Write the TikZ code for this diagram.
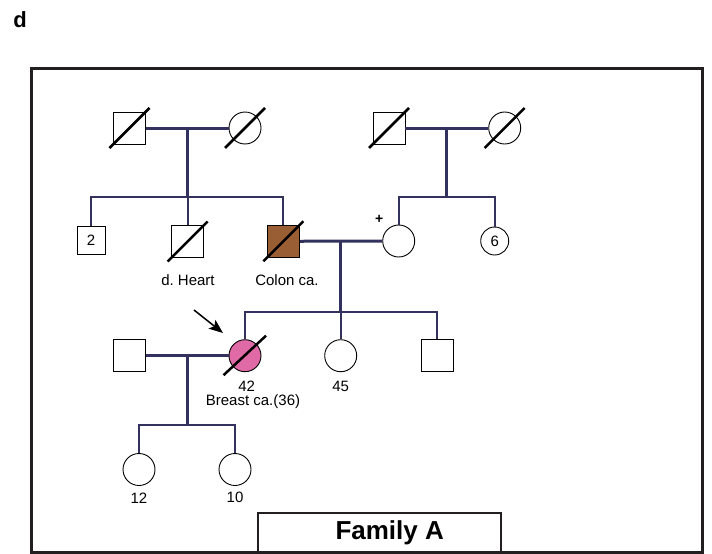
\documentclass[tikz,border=0pt]{standalone}
\usepackage{fontspec}
\setmainfont{Liberation Sans}
\usetikzlibrary{arrows.meta}
\definecolor{pedline}{HTML}{33325F}
\definecolor{colonbrown}{HTML}{9A5E34}
\definecolor{breastpink}{HTML}{E06AA6}
\definecolor{framegray}{HTML}{231F20}

\begin{document}
\begin{tikzpicture}[x=1pt,y=-1pt,
                every node/.style={font=\fontsize{15}{17}\selectfont},
                male/.style={rectangle, draw, line width=0.9pt, minimum size=32pt, inner sep=0pt},
                female/.style={circle, draw, line width=0.9pt, minimum size=32pt, inner sep=0pt},
                mate/.style={draw=pedline, line width=3pt},
                sibs/.style={draw=pedline, line width=2.3pt},
                slash/.style={line width=2.5pt},]
            \useasboundingbox (0,0) rectangle (712,554);
            \node[font=\bfseries\fontsize{22}{24}\selectfont] (panel) at (20,20) {d};
            \draw[line width=2.5pt, framegray] (31.7,68.3) rectangle (702.7,552.7);
            % grandparents
            \node[male] (gfA) at (129.5,128) {};
            \node[female] (gmA) at (245,128) {};
            \node[male] (gfB) at (389,128) {};
            \node[female] (gmB) at (504.7,128) {};
            % parents' generation
            \node[male, minimum size=28pt] (bro2) at (91,240) {2};
            \node[male] (uncle) at (187.7,241.5) {};
            \node[male, fill=colonbrown] (father) at (283.3,241.3) {};
            \node[female] (mother) at (398.7,241) {};
            \node[female, minimum size=28pt] (aunt6) at (494.7,241) {6};
            \node (heart) at (188,280) {d.\ Heart};
            \node (colon) at (287,280) {Colon ca.};
            \node[font=\bfseries\fontsize{14}{16}\selectfont] (plus) at (379.3,219) {+};
            % proband generation
            \node[male] (husband) at (129.5,355.7) {};
            \node[female, fill=breastpink] (proband) at (245,355.7) {};
            \node[female] (sister) at (340.7,355.7) {};
            \node[male] (brother) at (437,355.3) {};
            \node (ageP) at (246.7,386.7) {42};
            \node (dxP) at (253,401.5) {Breast ca.(36)};
            \node (ageS) at (340.7,386.7) {45};
            % children
            \node[female] (kid1) at (139,469.5) {};
            \node[female] (kid2) at (235,469.5) {};
            \node (ageK1) at (139,498.3) {12};
            \node (ageK2) at (235,497.3) {10};
            % lines of descent
            \coordinate (mA) at (187.7,128);
            \coordinate (sA) at (187.7,196.7);
            \coordinate (mB) at (446.7,128);
            \coordinate (sB) at (446.7,196.7);
            \coordinate (mC) at (340.7,241);
            \coordinate (sC) at (340.7,311.7);
            \coordinate (mD) at (187.3,355.7);
            \coordinate (sD) at (187.3,425);
            \draw[mate] (gfA) -- (gmA);
            \draw[mate] (gfB) -- (gmB);
            \draw[mate] (father) -- (mother);
            \draw[mate] (husband) -- (proband);
            \draw[mate] (mA) -- (sA);
            \draw[mate] (mB) -- (sB);
            \draw[mate] (mC) -- (sC);
            \draw[mate] (mD) -- (sD);
            \draw[sibs] (bro2.north) |- (sA) -| (father.north);
            \draw[sibs] (sA) -- (uncle.north);
            \draw[sibs] (mother.north) |- (sB) -| (aunt6.north);
            \draw[sibs] (proband.north) |- (sC) -| (brother.north);
            \draw[sibs] (sC) -- (sister.north);
            \draw[sibs] (kid1.north) |- (sD) -| (kid2.north);
            % deceased
            \foreach \n in {gfA,gmA,gfB,gmB,uncle,father}
                \draw[slash] ([shift={(-20,20)}]\n.center) -- ([shift={(20,-20)}]\n.center);
            \draw[slash] ([shift={(-21.5,19.5)}]proband.center) -- ([shift={(21,-20)}]proband.center);
            % proband arrow
            \coordinate (tail) at (194,310);
            \coordinate (tip) at (223,333);
            \draw[line width=1.5pt, -{Stealth[length=14pt,width=11pt,inset=3pt]}] (tail) -- (tip);
            \node[draw, line width=2pt, framegray, text=black, minimum width=242.7pt, minimum height=39.4pt,
                  inner sep=0pt, font=\bfseries\fontsize{26}{28}\selectfont] (famA) at (379.7,533) {\hspace*{20pt}Family A};
        \end{tikzpicture}
\end{document}
